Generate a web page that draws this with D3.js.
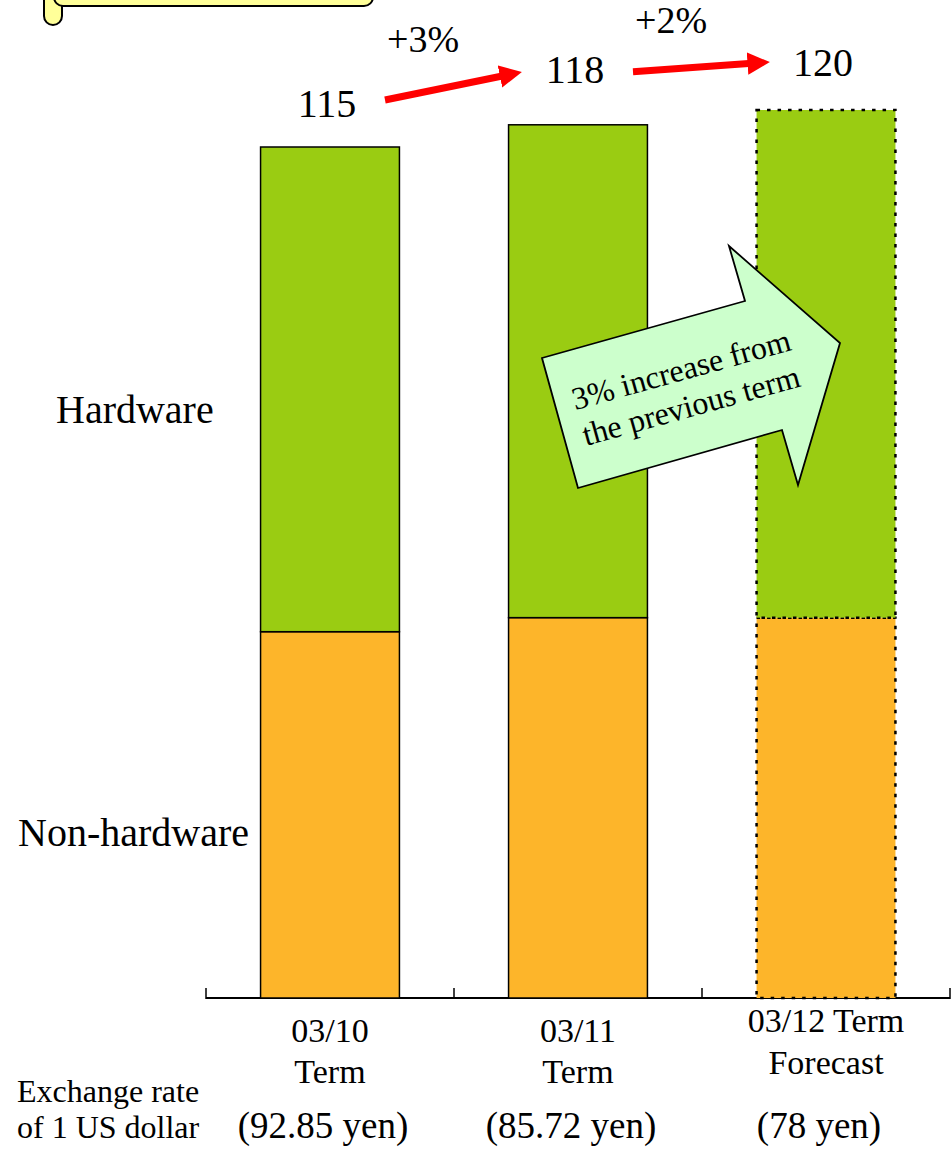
<!DOCTYPE html>
<html>
<head>
<meta charset="utf-8">
<script src="https://cdn.jsdelivr.net/npm/d3@7"></script>
<style>
  html, body { margin: 0; padding: 0; background: #fff; }
  svg { display: block; }
  text { font-family: "Liberation Serif", "Times New Roman", serif; fill: #000; }
</style>
</head>
<body>
<svg id="chart" width="951" height="1153"></svg>
<script>
// Sales by term (hundred-million units), stacked: non-hardware at the bottom
const terms = ["03/10", "03/11", "03/12"];
const termLine1 = ["03/10", "03/11", "03/12 Term"];
const termLine2 = ["Term", "Term", "Forecast"];
const nonHardware = [49.5, 51.4, 51.4];
const hardware = [65.5, 66.6, 68.6];
const totals = [115, 118, 120];
const exchangeRates = ["(92.85 yen)", "(85.72 yen)", "(78 yen)"];
const growthLabels = ["+3%", "+2%"];
const forecastFlags = [false, false, true];

// Layout tweaks: how far each total label sits above its bar
const totalLabelLift = [30, 42, 34];

const svg = d3.select("#chart");

const x = d3.scaleBand().domain(terms).range([206, 950]).padding(0);
const y = d3.scaleLinear().domain([0, 120]).range([998, 110]);
const barW = x.bandwidth() * 0.56;
const center = t => x(t) + x.bandwidth() / 2;

const green = "#9ACC12";
const orange = "#FDB52A";

// Partially visible scroll-shaped title box at the top-left
const scroll = svg.append("g");
scroll.append("rect")
  .attr("x", 44).attr("y", -40).attr("width", 18).attr("height", 65)
  .attr("rx", 9).attr("fill", "#FFFF99").attr("stroke", "#000").attr("stroke-width", 2);
scroll.append("rect")
  .attr("x", 54).attr("y", -60).attr("width", 319).attr("height", 66)
  .attr("rx", 9).attr("fill", "#FFFF99").attr("stroke", "#000").attr("stroke-width", 2);

// Axis baseline and ticks at band edges
const axisG = svg.append("g").attr("transform", `translate(0,${y(0)})`);
axisG.append("line")
  .attr("x1", x.range()[0]).attr("x2", x.range()[1])
  .attr("stroke", "#000").attr("stroke-width", 2);
const edges = terms.map(t => x(t)).concat([x.range()[1]]);
axisG.selectAll("line.tick").data(edges).join("line")
  .attr("class", "tick")
  .attr("x1", d => d).attr("x2", d => d)
  .attr("y1", -10).attr("y2", 1)
  .attr("stroke", "#000").attr("stroke-width", 1.5);

// Stacked bars
const bars = svg.append("g");
terms.forEach((t, i) => {
  const bx = x(t) + (x.bandwidth() - barW) / 2;
  const dashed = forecastFlags[i];
  const stroke = dashed ? { w: 2.5, dash: "3.5 7" } : { w: 1.5, dash: null };
  const seg = [
    { y0: 0, y1: nonHardware[i], fill: orange },
    { y0: nonHardware[i], y1: nonHardware[i] + hardware[i], fill: green }
  ];
  seg.forEach(s => {
    bars.append("rect")
      .attr("x", bx).attr("y", y(s.y1))
      .attr("width", barW).attr("height", y(s.y0) - y(s.y1))
      .attr("fill", s.fill)
      .attr("stroke", "#000")
      .attr("stroke-width", stroke.w)
      .attr("stroke-dasharray", stroke.dash);
  });
});

// Total labels above the bars
const labelPos = terms.map((t, i) => ({
  cx: center(t) - 3,
  by: y(totals[i]) - totalLabelLift[i]
}));
svg.append("g").selectAll("text").data(totals).join("text")
  .attr("x", (d, i) => labelPos[i].cx)
  .attr("y", (d, i) => labelPos[i].by)
  .attr("text-anchor", "middle")
  .attr("font-size", 40)
  .text(d => d);

// Red growth arrows between the totals
const defs = svg.append("defs");
defs.append("marker")
  .attr("id", "redHead")
  .attr("viewBox", "0 0 10 10")
  .attr("refX", 0.5).attr("refY", 5)
  .attr("markerWidth", 3.2).attr("markerHeight", 3.3)
  .attr("orient", "auto")
  .append("path").attr("d", "M0,0 L10,5 L0,10 Z").attr("fill", "#FF0000");

const arrowW = 7;
const headLen = 3.2 * arrowW;
growthLabels.forEach((g, i) => {
  const a = labelPos[i], b = labelPos[i + 1];
  const x1 = a.cx + 58, y1 = a.by - 17 + (i ? 6 : 0);
  const tx = b.cx - 52, ty = b.by - (i ? 14 : 11);
  const len = Math.hypot(tx - x1, ty - y1);
  const x2 = tx - (tx - x1) / len * headLen;
  const y2 = ty - (ty - y1) / len * headLen;
  svg.append("line")
    .attr("x1", x1).attr("y1", y1).attr("x2", x2).attr("y2", y2)
    .attr("stroke", "#FF0000").attr("stroke-width", arrowW)
    .attr("marker-end", "url(#redHead)");
  svg.append("text")
    .attr("x", (x1 + tx) / 2 - 31)
    .attr("y", (y1 + ty) / 2 - 34)
    .attr("text-anchor", "middle")
    .attr("font-size", 38)
    .text(g);
});

// Big light-green arrow callout
const arrowPts = [[542, 358], [745, 301], [729, 246], [840, 343], [798, 485], [782, 430], [578, 488]];
svg.append("path")
  .attr("d", d3.line()(arrowPts) + "Z")
  .attr("fill", "#CCFFCC").attr("stroke", "#000").attr("stroke-width", 1.8)
  .attr("stroke-linejoin", "miter");
const callout = svg.append("g").attr("transform", "translate(689,398) rotate(-15.5)");
callout.append("text").attr("x", 0).attr("y", -18.7).attr("text-anchor", "middle")
  .attr("font-size", 32).text("3% increase from");
callout.append("text").attr("x", 0).attr("y", 18.7).attr("text-anchor", "middle")
  .attr("font-size", 32).text("the previous term");

// Series names on the left
svg.append("text").attr("x", 56).attr("y", 423).attr("font-size", 40).text("Hardware");
svg.append("text").attr("x", 18).attr("y", 846).attr("font-size", 40).text("Non-hardware");

// Category labels
const cat = svg.append("g");
terms.forEach((t, i) => {
  const cx = center(t);
  const forecast = forecastFlags[i];
  cat.append("text").attr("x", cx).attr("y", forecast ? 1032 : 1042)
    .attr("text-anchor", "middle").attr("font-size", 34).text(termLine1[i]);
  cat.append("text").attr("x", cx).attr("y", forecast ? 1074 : 1083)
    .attr("text-anchor", "middle").attr("font-size", 34).text(termLine2[i]);
  cat.append("text").attr("x", cx - 7).attr("y", 1138)
    .attr("text-anchor", "middle").attr("font-size", 37).text(exchangeRates[i]);
});

svg.append("text").attr("x", 17).attr("y", 1102).attr("font-size", 32).text("Exchange rate");
svg.append("text").attr("x", 17).attr("y", 1138).attr("font-size", 32).text("of 1 US dollar");
</script>
</body>
</html>
